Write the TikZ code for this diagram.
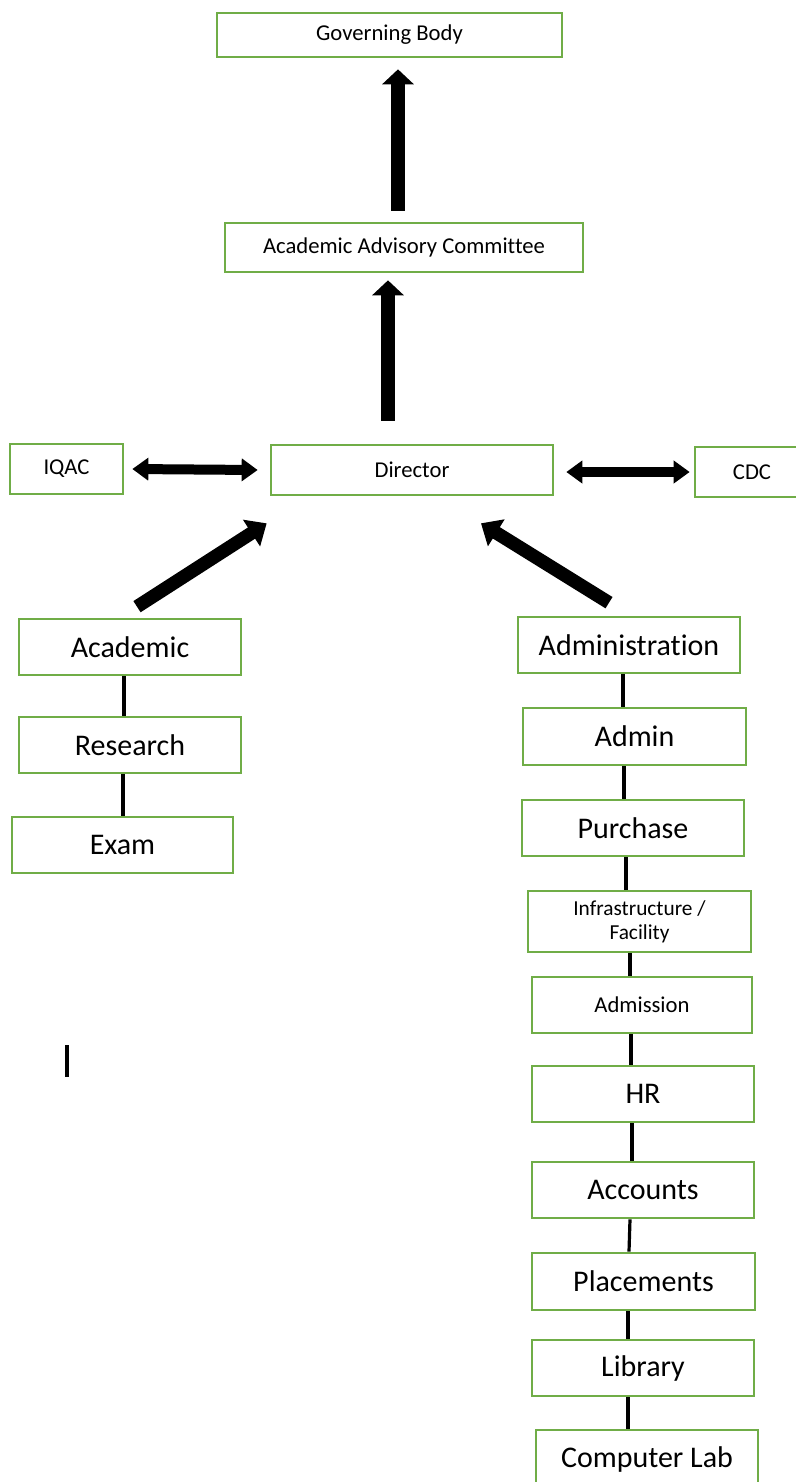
\documentclass[tikz,border=0pt]{standalone}
\usepackage{fontspec}
\setmainfont{Carlito}[Ligatures={NoCommon}]
\usetikzlibrary{arrows.meta,calc}
\definecolor{boxgreen}{RGB}{112,173,71}
\begin{document}
\begin{tikzpicture}[x=0.75pt,y=-0.75pt,
  box/.style 2 args={draw=boxgreen, line width=2pt, fill=white, minimum width=#1*0.75pt, minimum height=#2*0.75pt, inner sep=0pt, anchor=center},
  fsmall/.style={font=\fontsize{17}{20}\selectfont},
  finfra/.style={font=\fontsize{16}{18}\selectfont, align=center},
  flarge/.style={font=\fontsize{22.5}{26}\selectfont},
  link/.style={draw=black, line width=2.4pt},
  uparrow/.style={line width=10.5pt, -{Triangle[width=23.25pt,length=11.25pt]}},
  duoarrow/.style={line width=7.5pt, {Triangle[width=16.5pt,length=12pt]}-{Triangle[width=16.5pt,length=12pt]}},
  diagarrow/.style={line width=10pt, -{Triangle[width=23pt,length=13.5pt]}}
]
\useasboundingbox (0,0) rectangle (796,1482);
\fill[white] (0,0) rectangle (796,1482);

% top
\node[box={345}{44}, fsmall] (gb) at (389.5,35) {Governing Body};
\node[box={358}{49}, fsmall] (aac) at (404,247.5) {Academic Advisory Committee};
\node[box={113}{50}, fsmall] (iqac) at (66.5,469) {IQAC};
\node[box={282}{50}, fsmall] (dir) at (412,470) {Director};
\node[box={114}{50}, fsmall] (cdc) at (752,472) {CDC};

% left column
\node[box={222}{56}, flarge] (acad) at (130,647) {Academic};
\node[box={222}{56}, flarge] (res) at (130,745) {Research};
\node[box={221}{56}, flarge] (exam) at (122.5,845) {Exam};

% right column
\node[box={222}{56}, flarge] (adm) at (629,645) {Administration};
\node[box={223}{57}, flarge] (admin) at (634.5,736.5) {Admin};
\node[box={222}{56}, flarge] (pur) at (633,828) {Purchase};
\node[box={223}{61}, finfra] (inf) at (639.5,921.5) {Infrastructure /\\Facility};
\node[box={220}{56}, fsmall] (admis) at (642,1005) {Admission};
\node[box={222}{56}, flarge] (hr) at (643,1094) {HR};
\node[box={222}{56}, flarge] (acc) at (643,1190) {Accounts};
\node[box={223}{57}, flarge] (plc) at (643.5,1281.5) {Placements};
\node[box={222}{56}, flarge] (lib) at (643,1368) {Library};
\node[box={222}{58}, flarge] (cl) at (647,1459) {Computer Lab};

% thick arrows
\draw[uparrow] ($(aac.north)+(-6,-11)$) -- ($(gb.south)+(8.5,11)$);
\draw[uparrow] ($(dir.north)+(-24,-23)$) -- ($(aac.south)+(-16,7)$);
\draw[duoarrow] ($(iqac.east)+(8,0)$) -- ($(dir.west)+(-12,0)$);
\draw[duoarrow] ($(dir.east)+(12,2)$) -- ($(cdc.west)+(-4,0)$);
\draw[diagarrow] ($(acad.north)+(7,-11)$) -- ($(dir.south west)+(-3,27)$);
\draw[diagarrow] ($(adm.north)+(-20,-13)$) -- ($(dir.south)+(69,27)$);

% connectors left
\draw[link] ($(acad.south)+(-6,0)$) -- ($(res.north)+(-6,0)$);
\draw[link] ($(res.south)+(-7,0)$) -- ($(exam.north)+(0.5,0)$);

% connectors right
\draw[link] ($(adm.south)+(-6,0)$) -- ($(admin.north)+(-11.5,0)$);
\draw[link] ($(admin.south)+(-10.5,0)$) -- ($(pur.north)+(-9,0)$);
\draw[link] ($(pur.south)+(-7,0)$) -- ($(inf.north)+(-13.5,0)$);
\draw[link] ($(inf.south)+(-9.5,0)$) -- ($(admis.north)+(-12,0)$);
\draw[link] ($(admis.south)+(-11,0)$) -- ($(hr.north)+(-12,0)$);
\draw[link] ($(hr.south)+(-11,0)$) -- ($(acc.north)+(-11,0)$);
\draw[link] ($(acc.south)+(-13,0)$) -- ($(plc.north)+(-14.5,0)$);
\draw[link] ($(plc.south)+(-15.5,0)$) -- ($(lib.north)+(-15,0)$);
\draw[link] ($(lib.south)+(-15,0)$) -- ($(cl.north)+(-19,0)$);

% stray mark
\coordinate (s1) at (67,1045);
\coordinate (s2) at (67,1077);
\draw[link] (s1) -- (s2);
\end{tikzpicture}
\end{document}
